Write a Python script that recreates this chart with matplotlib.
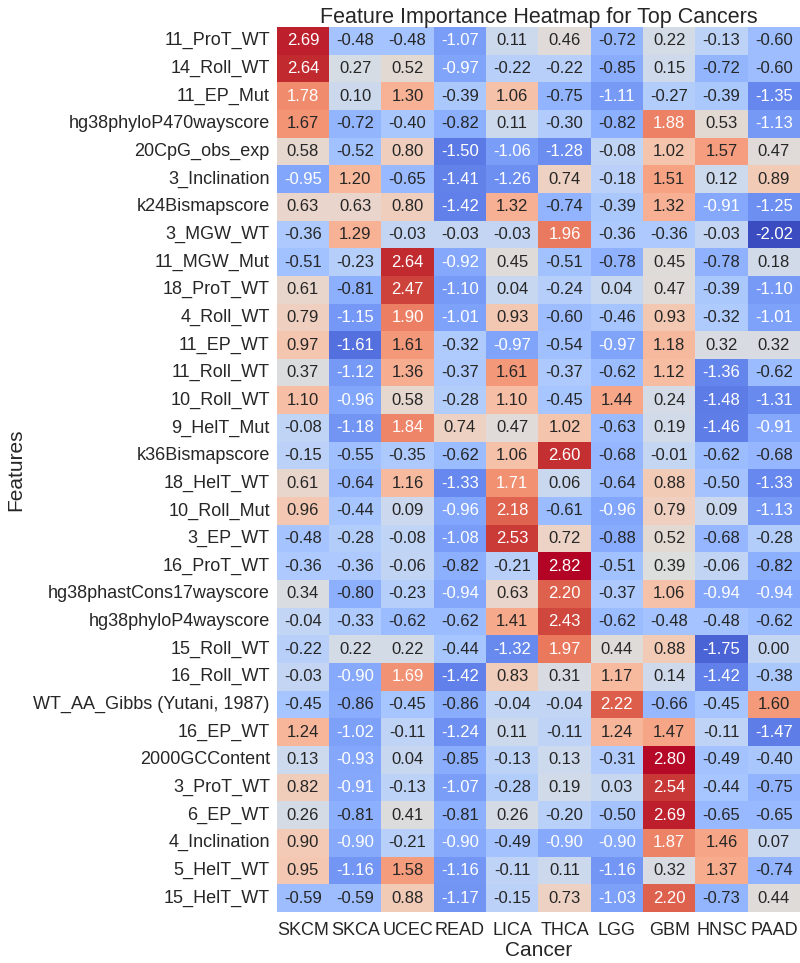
import numpy as np
import pandas as pd
import matplotlib
matplotlib.use("Agg")
import matplotlib.pyplot as plt
import seaborn as sns

cancers = ["SKCM", "SKCA", "UCEC", "READ", "LICA", "THCA", "LGG", "GBM", "HNSC", "PAAD"]
features = [
    "11_ProT_WT", "14_Roll_WT", "11_EP_Mut", "hg38phyloP470wayscore", "20CpG_obs_exp",
    "3_Inclination", "k24Bismapscore", "3_MGW_WT", "11_MGW_Mut", "18_ProT_WT",
    "4_Roll_WT", "11_EP_WT", "11_Roll_WT", "10_Roll_WT", "9_HelT_Mut",
    "k36Bismapscore", "18_HelT_WT", "10_Roll_Mut", "3_EP_WT", "16_ProT_WT",
    "hg38phastCons17wayscore", "hg38phyloP4wayscore", "15_Roll_WT", "16_Roll_WT",
    "WT_AA_Gibbs (Yutani, 1987)", "16_EP_WT", "2000GCContent", "3_ProT_WT",
    "6_EP_WT", "4_Inclination", "5_HelT_WT", "15_HelT_WT",
]
values = [
    [2.69, -0.48, -0.48, -1.07, 0.11, 0.46, -0.72, 0.22, -0.13, -0.60],
    [2.64, 0.27, 0.52, -0.97, -0.22, -0.22, -0.85, 0.15, -0.72, -0.60],
    [1.78, 0.10, 1.30, -0.39, 1.06, -0.75, -1.11, -0.27, -0.39, -1.35],
    [1.67, -0.72, -0.40, -0.82, 0.11, -0.30, -0.82, 1.88, 0.53, -1.13],
    [0.58, -0.52, 0.80, -1.50, -1.06, -1.28, -0.08, 1.02, 1.57, 0.47],
    [-0.95, 1.20, -0.65, -1.41, -1.26, 0.74, -0.18, 1.51, 0.12, 0.89],
    [0.63, 0.63, 0.80, -1.42, 1.32, -0.74, -0.39, 1.32, -0.91, -1.25],
    [-0.36, 1.29, -0.03, -0.03, -0.03, 1.96, -0.36, -0.36, -0.03, -2.02],
    [-0.51, -0.23, 2.64, -0.92, 0.45, -0.51, -0.78, 0.45, -0.78, 0.18],
    [0.61, -0.81, 2.47, -1.10, 0.04, -0.24, 0.04, 0.47, -0.39, -1.10],
    [0.79, -1.15, 1.90, -1.01, 0.93, -0.60, -0.46, 0.93, -0.32, -1.01],
    [0.97, -1.61, 1.61, -0.32, -0.97, -0.54, -0.97, 1.18, 0.32, 0.32],
    [0.37, -1.12, 1.36, -0.37, 1.61, -0.37, -0.62, 1.12, -1.36, -0.62],
    [1.10, -0.96, 0.58, -0.28, 1.10, -0.45, 1.44, 0.24, -1.48, -1.31],
    [-0.08, -1.18, 1.84, 0.74, 0.47, 1.02, -0.63, 0.19, -1.46, -0.91],
    [-0.15, -0.55, -0.35, -0.62, 1.06, 2.60, -0.68, -0.01, -0.62, -0.68],
    [0.61, -0.64, 1.16, -1.33, 1.71, 0.06, -0.64, 0.88, -0.50, -1.33],
    [0.96, -0.44, 0.09, -0.96, 2.18, -0.61, -0.96, 0.79, 0.09, -1.13],
    [-0.48, -0.28, -0.08, -1.08, 2.53, 0.72, -0.88, 0.52, -0.68, -0.28],
    [-0.36, -0.36, -0.06, -0.82, -0.21, 2.82, -0.51, 0.39, -0.06, -0.82],
    [0.34, -0.80, -0.23, -0.94, 0.63, 2.20, -0.37, 1.06, -0.94, -0.94],
    [-0.04, -0.33, -0.62, -0.62, 1.41, 2.43, -0.62, -0.48, -0.48, -0.62],
    [-0.22, 0.22, 0.22, -0.44, -1.32, 1.97, 0.44, 0.88, -1.75, 0.00],
    [-0.03, -0.90, 1.69, -1.42, 0.83, 0.31, 1.17, 0.14, -1.42, -0.38],
    [-0.45, -0.86, -0.45, -0.86, -0.04, -0.04, 2.22, -0.66, -0.45, 1.60],
    [1.24, -1.02, -0.11, -1.24, 0.11, -0.11, 1.24, 1.47, -0.11, -1.47],
    [0.13, -0.93, 0.04, -0.85, -0.13, 0.13, -0.31, 2.80, -0.49, -0.40],
    [0.82, -0.91, -0.13, -1.07, -0.28, 0.19, 0.03, 2.54, -0.44, -0.75],
    [0.26, -0.81, 0.41, -0.81, 0.26, -0.20, -0.50, 2.69, -0.65, -0.65],
    [0.90, -0.90, -0.21, -0.90, -0.49, -0.90, -0.90, 1.87, 1.46, 0.07],
    [0.95, -1.16, 1.58, -1.16, -0.11, 0.11, -1.16, 0.32, 1.37, -0.74],
    [-0.59, -0.59, 0.88, -1.17, -0.15, 0.73, -1.03, 2.20, -0.73, 0.44],
]

df = pd.DataFrame(values, index=features, columns=cancers)

sns.set_theme(style="white")
plt.rcParams["font.family"] = ["Liberation Sans", "DejaVu Sans"]

fig = plt.figure(figsize=(8, 9.63), dpi=100)
ax = fig.add_axes([0.346, 0.053, 0.654, 0.919])
sns.heatmap(df, ax=ax, cmap="coolwarm", annot=True, fmt=".2f", cbar=False,
            annot_kws={"fontsize": 12})
ax.set_title("Feature Importance Heatmap for Top Cancers", fontsize=15.5, pad=3)
ax.set_xlabel("Cancer", fontsize=15, labelpad=2)
ax.set_ylabel("Features", fontsize=15, labelpad=6)
ax.tick_params(axis="both", labelsize=13, length=0)
ax.tick_params(axis="x", pad=7)
ax.tick_params(axis="y", pad=5)
plt.setp(ax.get_yticklabels(), rotation=0)
plt.setp(ax.get_xticklabels(), rotation=0)
fig.savefig("out.png", dpi=100)
